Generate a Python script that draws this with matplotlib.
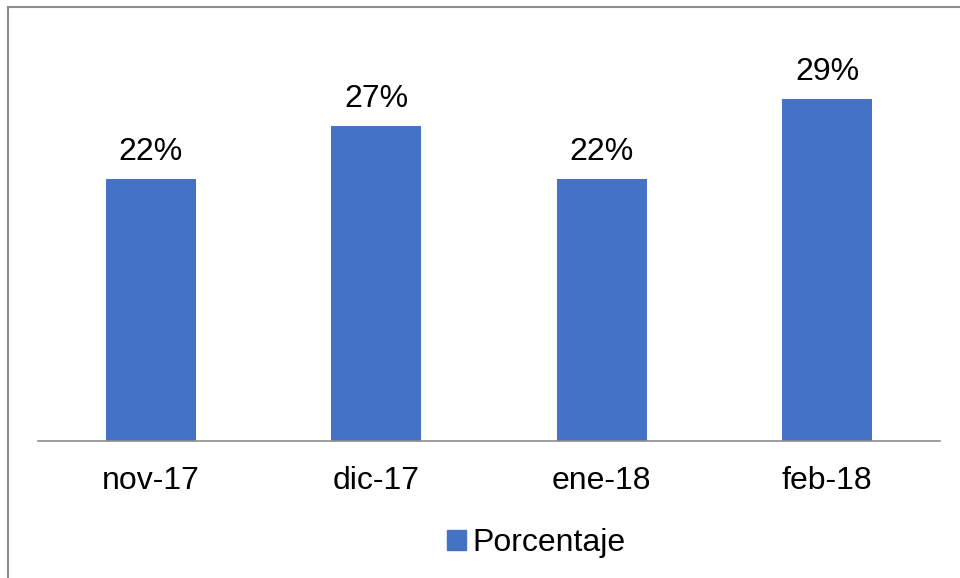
import matplotlib
matplotlib.use('Agg')
import matplotlib.pyplot as plt
from matplotlib.patches import Rectangle, Patch

# data
meses = ['nov-17', 'dic-17', 'ene-18', 'feb-18']
porcentaje = [22.2, 26.7, 22.2, 29.0]
serie = 'Porcentaje'

color_barra = '#4472C4'
plt.rcParams['font.family'] = ['Liberation Sans', 'DejaVu Sans']

W, H = 960, 578
fig = plt.figure(figsize=(W / 100, H / 100), dpi=100)
fig.patch.set_facecolor('white')

# outer chart border (only left and top are visible in the picture)
fig.patches.append(Rectangle((8 / W, -0.05), 1.2, (H - 7) / H + 0.05,
                             transform=fig.transFigure, fill=False,
                             edgecolor='#8c8c8c', linewidth=1.5))

# plot area: baseline at y=441 px, 35% at y=28 px
ax = fig.add_axes([38 / W, (H - 441) / H, (940 - 38) / W, (441 - 28) / H])
x = range(len(meses))
bars = ax.bar(x, porcentaje, width=0.4, color=color_barra)
ax.set_xlim(-0.5, len(meses) - 0.5)
ax.set_ylim(0, 35)

for b, v in zip(bars, porcentaje):
    ax.text(b.get_x() + b.get_width() / 2, v + 1.0, f'{v:.0f}%',
            ha='center', va='bottom', fontsize=23, color='black')

ax.set_xticks(list(x))
ax.set_xticklabels(meses, fontsize=23)
ax.tick_params(axis='x', length=0, pad=18)
ax.set_yticks([])
for s in ['top', 'right', 'left']:
    ax.spines[s].set_visible(False)
ax.spines['bottom'].set_color('#8c8c8c')
ax.spines['bottom'].set_linewidth(1.2)

fig.legend(handles=[Patch(color=color_barra, label=serie)],
           loc='center', bbox_to_anchor=(536 / W, 1 - 543 / H),
           frameon=False, fontsize=23, handlelength=0.6, handleheight=0.6,
           handletextpad=0.2)

fig.savefig('out.png', dpi=100, facecolor='white')
